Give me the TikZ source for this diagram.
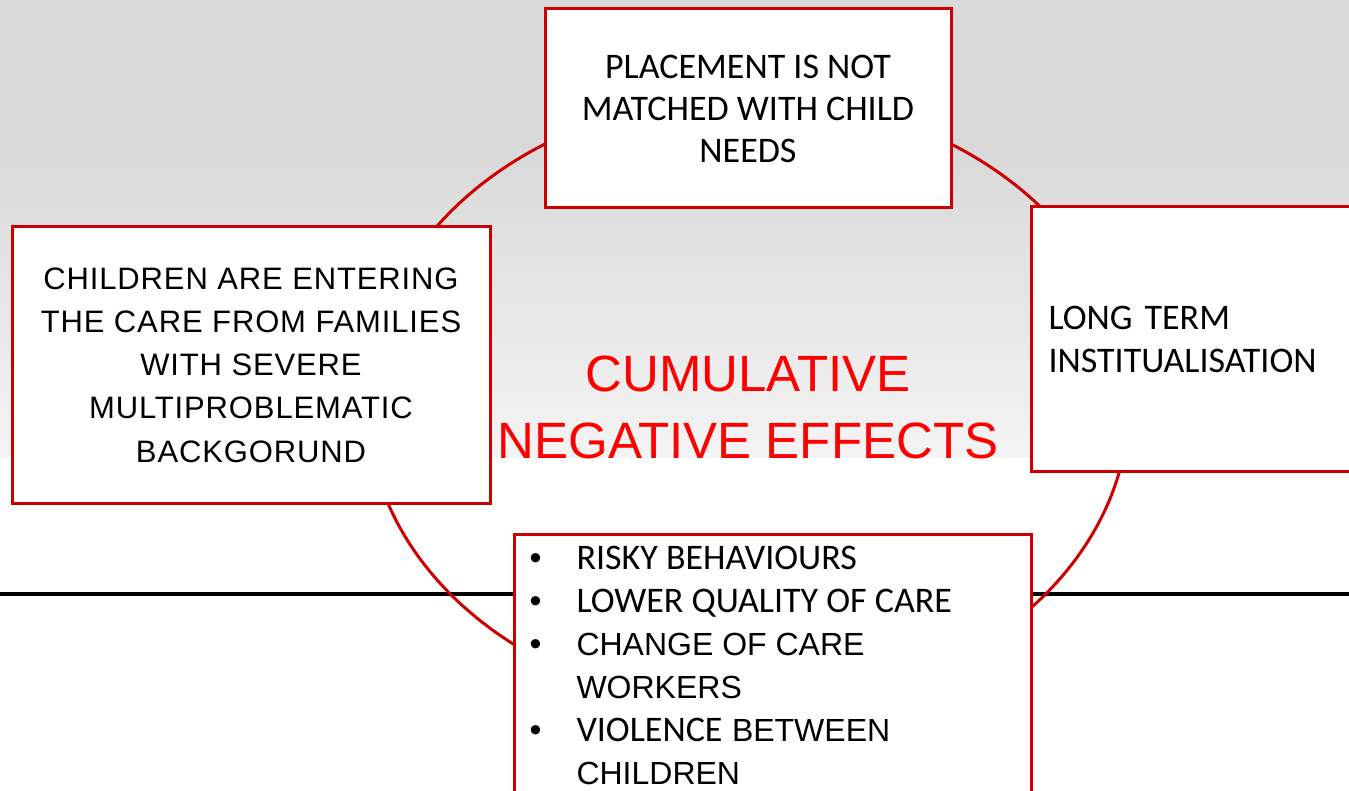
\documentclass[tikz,border=0pt]{standalone}
\usepackage{fontspec}
\setmainfont{Liberation Sans}
\newfontfamily\carlito{Carlito}
\newfontfamily\widesans[LetterSpace=2.8]{Liberation Sans}
\usetikzlibrary{positioning}
\definecolor{boxred}{RGB}{204,0,0}
\definecolor{bggray}{RGB}{217,217,217}
\definecolor{bgfade}{RGB}{244,244,244}

% bullet line of the effects list and its wrapped second line
\newcommand\effitem[1]{\noindent\makebox[47pt][l]{\normalfont\textbullet}{#1}\par}
\newcommand\effcont[1]{\noindent\hspace*{47pt}{#1}\par}
\newcommand\armid{\normalfont\fontsize{32pt}{43pt}\selectfont}
\newcommand\cbig{\carlito\fontsize{36pt}{43pt}\selectfont}

\begin{document}
\begin{tikzpicture}[x=1pt, y=-1pt,
box/.style = {draw=boxred, line width=3pt, fill=white,
              align=center, inner sep=0pt},
titletext/.style = {text=red, align=center,
              font=\fontsize{51pt}{67pt}\selectfont}
                ]
\path[use as bounding box, clip] (0,0) rectangle (1349,791);

%% backdrop
\fill[white] (0,0) rectangle (1349,791);
\fill[bggray] (0,0) rectangle (1349,150);
\shade[top color=bggray, bottom color=bgfade] (0,150) rectangle (1349,457);
\draw[line width=3.5pt] (0,594) -- (1349,594);

%% the cycle
\draw[boxred, line width=3pt] (748,403) ellipse [x radius=381pt, y radius=306pt];

\node (match) [box, minimum width=406pt, minimum height=199pt,
               font=\carlito\fontsize{36pt}{42pt}\selectfont]
      at (748,108.5) {PLACEMENT IS NOT\\MATCHED WITH CHILD\\NEEDS};
\node (families) [box, minimum width=478pt, minimum height=276pt,
               font=\widesans\fontsize{31pt}{43.3pt}\selectfont]
      at (251,365) {CHILDREN ARE ENTERING\\THE CARE FROM FAMILIES\\WITH SEVERE\\MULTIPROBLEMATIC\\BACKGORUND};
\node (longterm) [box, anchor=west, align=left, text width=380pt,
               inner xsep=17pt, minimum height=264pt,
               font=\carlito\fontsize{36pt}{43pt}\selectfont]
      at (1030,339) {LONG TERM\\INSTITUALISATION};
\node (effects) [box, anchor=north west, align=left,
               inner xsep=15pt, inner ysep=12pt]
      at (513,533) {\parbox[t][300pt][t]{487pt}{\raggedright
        \fontsize{34pt}{43pt}\selectfont
        \effitem{\cbig RISKY BEHAVIOURS}
        \effitem{\cbig LOWER QUALITY OF CARE}
        \effitem{\armid CHANGE OF CARE}
        \effcont{\armid WORKERS}
        \effitem{{\cbig VIOLENCE} \armid BETWEEN}
        \effcont{\armid CHILDREN}}};

\node (cumulative) [titletext] at (748,407) {CUMULATIVE\\NEGATIVE EFFECTS};
\end{tikzpicture}
\end{document}
